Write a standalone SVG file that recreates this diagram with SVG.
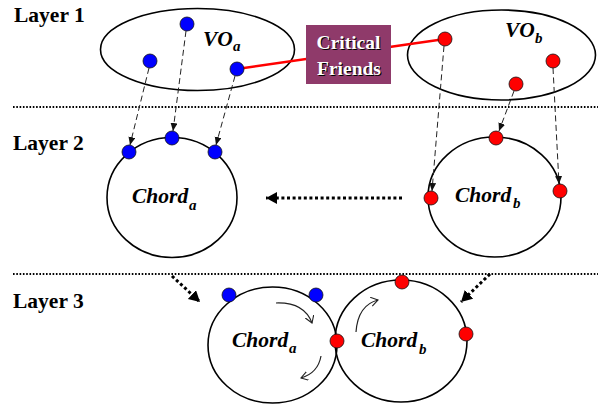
<svg xmlns="http://www.w3.org/2000/svg" width="599" height="406" viewBox="0 0 599 406">
  <style>
    .bg { fill: #ffffff; }
    .layer { font-family: "Liberation Serif", "Times New Roman", serif; font-weight: bold; font-size: 21.5px; fill: #000; }
    .label { font-family: "Liberation Serif", "Times New Roman", serif; font-weight: bold; font-style: italic; font-size: 21.5px; fill: #000; }
    .sub { font-family: "Liberation Serif", "Times New Roman", serif; font-weight: bold; font-style: italic; font-size: 15px; fill: #000; }
    .ring { fill: none; stroke: #000; stroke-width: 1.6; }
    .sep { fill: none; stroke: #000; stroke-width: 2; stroke-dasharray: 1.6 1.7; }
    .dash { fill: none; stroke: #222; stroke-width: 1; stroke-dasharray: 6 3.5; }
    .bold-dot { fill: none; stroke: #000; stroke-width: 3; stroke-dasharray: 3 2.6; }
    .flow { fill: none; stroke: #222; stroke-width: 1.2; }
    .blue { fill: #0000ff; stroke: #111; stroke-width: 0.8; }
    .red { fill: #ff0000; stroke: #111; stroke-width: 0.8; }
    .cf { font-family: "Liberation Serif", "Times New Roman", serif; font-weight: bold; font-size: 19.5px; text-anchor: middle; }
  </style>
  <defs>
    <marker id="head-small" markerUnits="userSpaceOnUse" markerWidth="9" markerHeight="8" refX="8" refY="3.5" orient="auto">
      <path d="M0,0 L8,3.5 L0,7 z" fill="#111"/>
    </marker>
    <marker id="head-bold" markerUnits="userSpaceOnUse" markerWidth="13" markerHeight="13" refX="11" refY="6" orient="auto">
      <path d="M0,0 L11,6 L0,12 z" fill="#000"/>
    </marker>
    <marker id="head-open" markerUnits="userSpaceOnUse" markerWidth="9" markerHeight="10" refX="7" refY="4.5" orient="auto">
      <path d="M0,0 L7,4.5 L0,9" fill="none" stroke="#222" stroke-width="1.1"/>
    </marker>
  </defs>

  <rect class="bg" x="0" y="0" width="599" height="406"/>

  <!-- layer labels and separators -->
  <g id="layers">
    <text class="layer" x="14" y="22">Layer 1</text>
    <text class="layer" x="13" y="150">Layer 2</text>
    <text class="layer" x="13" y="308">Layer 3</text>
    <line class="sep" x1="13" y1="107" x2="598" y2="107"/>
    <line class="sep" x1="13" y1="274" x2="598" y2="274"/>
  </g>

  <!-- virtual organisations -->
  <g id="vo-a">
    <ellipse class="ring" cx="197.5" cy="49.5" rx="97" ry="41" stroke-width="2"/>
    <text class="label" x="203" y="46" font-size="20">VO</text>
    <text class="sub" x="233" y="51">a</text>
  </g>
  <g id="vo-b">
    <ellipse class="ring" cx="501.5" cy="55" rx="94" ry="45" stroke-width="2"/>
    <text class="label" x="505" y="37" font-size="20">VO</text>
    <text class="sub" x="535" y="43">b</text>
  </g>

  <!-- chord rings, layer 2 -->
  <g id="chord-a-2">
    <ellipse class="ring" cx="172" cy="197.5" rx="65" ry="60"/>
    <text class="label" x="132" y="203">Chord</text>
    <text class="sub" x="189" y="210">a</text>
  </g>
  <g id="chord-b-2">
    <ellipse class="ring" cx="494.5" cy="197" rx="66.5" ry="60"/>
    <text class="label" x="455" y="202">Chord</text>
    <text class="sub" x="513" y="208">b</text>
  </g>

  <!-- merged chord rings, layer 3 -->
  <g id="chord-a-3">
    <ellipse class="ring" cx="272.5" cy="345" rx="64.5" ry="58"/>
    <text class="label" x="232" y="347">Chord</text>
    <text class="sub" x="289" y="353">a</text>
  </g>
  <g id="chord-b-3">
    <ellipse class="ring" cx="401" cy="341" rx="66" ry="61"/>
    <text class="label" x="361" y="347">Chord</text>
    <text class="sub" x="419" y="354">b</text>
  </g>

  <!-- connectors -->
  <g id="connectors">
    <line x1="237" y1="69" x2="445" y2="39" stroke="#ff0000" stroke-width="2.5"/>

    <line class="dash" x1="149" y1="68" x2="130" y2="145" marker-end="url(#head-small)"/>
    <line class="dash" x1="186" y1="31" x2="173" y2="131" marker-end="url(#head-small)"/>
    <line class="dash" x1="235" y1="76" x2="216" y2="145" marker-end="url(#head-small)"/>
    <line class="dash" x1="444" y1="46" x2="432" y2="191" marker-end="url(#head-small)"/>
    <line class="dash" x1="514" y1="91" x2="499" y2="131" marker-end="url(#head-small)"/>
    <line class="dash" x1="553" y1="68" x2="559" y2="184" marker-end="url(#head-small)"/>

    <line class="bold-dot" x1="402" y1="198" x2="266" y2="198" marker-end="url(#head-bold)"/>
    <line class="bold-dot" x1="172" y1="276" x2="200" y2="302" marker-end="url(#head-bold)"/>
    <line class="bold-dot" x1="490" y1="274" x2="461" y2="302" marker-end="url(#head-bold)"/>

    <path class="flow" d="M276,303 Q304,302 312,323" marker-end="url(#head-open)"/>
    <path class="flow" d="M321,356 Q318,373 301,378" marker-end="url(#head-open)"/>
    <path class="flow" d="M356,332 Q358,305 378,300" marker-end="url(#head-open)"/>
  </g>

  <!-- critical friends link box -->
  <g id="critical-friends">
    <rect x="306" y="25" width="85" height="59" fill="#8f3a6a"/>
    <text class="cf" x="349.5" y="50" fill="#000">Critical</text>
    <text class="cf" x="348.5" y="49" fill="#fff">Critical</text>
    <text class="cf" x="350" y="76" fill="#000">Friends</text>
    <text class="cf" x="349" y="75" fill="#fff">Friends</text>
  </g>

  <!-- peers -->
  <g id="peers-a">
    <circle class="blue" cx="187" cy="24" r="7"/>
    <circle class="blue" cx="150" cy="61" r="7"/>
    <circle class="blue" cx="237" cy="69" r="7"/>
    <circle class="blue" cx="129" cy="152" r="7"/>
    <circle class="blue" cx="172" cy="138" r="7"/>
    <circle class="blue" cx="215" cy="152" r="7"/>
    <circle class="blue" cx="229" cy="295" r="7"/>
    <circle class="blue" cx="316" cy="295" r="7"/>
  </g>
  <g id="peers-b">
    <circle class="red" cx="445" cy="39" r="7"/>
    <circle class="red" cx="553" cy="61" r="7"/>
    <circle class="red" cx="516" cy="84" r="7"/>
    <circle class="red" cx="496" cy="138" r="7"/>
    <circle class="red" cx="431" cy="198" r="7"/>
    <circle class="red" cx="560" cy="191" r="7"/>
    <circle class="red" cx="337" cy="341" r="7"/>
    <circle class="red" cx="402" cy="282" r="7"/>
    <circle class="red" cx="466" cy="334" r="7"/>
  </g>
</svg>
